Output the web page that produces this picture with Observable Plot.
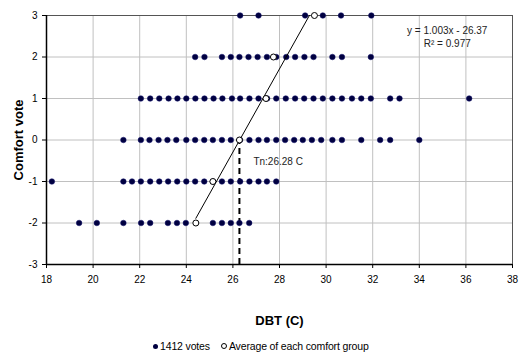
<!DOCTYPE html>
<html><head><meta charset="utf-8">
<script src="https://cdn.jsdelivr.net/npm/d3@7"></script>
<script src="https://cdn.jsdelivr.net/npm/@observablehq/plot@0.6"></script>
<style>
body{margin:0;background:#fff;font-family:"Liberation Sans",Arial,sans-serif;}
#wrap{position:relative;width:519px;height:353px;overflow:hidden;}
#chart svg{display:block;}
g[aria-label="x-axis label"] text, g[aria-label="y-axis label"] text{font-weight:bold;font-size:13px;}
#legend{position:absolute;left:153px;top:340px;font-size:10.5px;color:#000;white-space:nowrap;line-height:12px;letter-spacing:-0.15px;}
#legend .sw{display:inline-block;width:5px;height:5px;border-radius:50%;vertical-align:1px;margin-right:2px;}
#legend .filled{background:#000040;}
#legend .open{background:#fff;border:1px solid #000;width:4px;height:4px;}
</style></head><body>
<div id="wrap"><div id="chart"></div>
<div id="legend"><span class="sw filled"></span>1412 votes&nbsp;&nbsp;&nbsp;&nbsp;<span class="sw open"></span>Average of each comfort group</div>
</div>
<script>
// DBT (C) of the individual votes, per comfort vote level
const dbtVote3 = [26.31, 27.10, 29.10, 29.86, 30.64, 31.94];
const dbtVote2 = [24.38, 24.78, 25.53, 25.91, 26.28, 26.67, 27.06, 27.46, 27.86, 28.29, 28.67, 29.07, 29.46, 30.27, 30.68, 31.92];
const dbtVote1 = [22.05, 22.45, 22.84, 23.24, 23.62, 24.00, 24.39, 24.78, 25.17, 25.55, 25.96, 26.31, 26.71, 27.10, 27.47, 27.86, 28.27, 28.67, 29.06, 29.46, 29.86, 30.27, 30.68, 31.11, 31.51, 31.92, 32.75, 33.15, 36.14];
const dbtVote0 = [21.30, 22.05, 22.42, 22.81, 23.19, 23.57, 24.00, 24.38, 24.77, 25.14, 25.53, 25.91, 26.31, 26.71, 27.10, 27.46, 27.86, 28.24, 28.63, 29.00, 29.39, 29.79, 30.27, 30.68, 31.51, 32.32, 32.75, 34.00];
const dbtVoteM1 = [18.23, 21.30, 21.67, 22.05, 22.45, 22.84, 23.22, 23.61, 24.00, 24.38, 24.77, 25.14, 25.53, 25.91, 26.31, 26.71, 27.10, 27.46, 27.86];
const dbtVoteM2 = [19.40, 20.16, 21.30, 22.06, 22.45, 23.21, 23.60, 23.98, 25.14, 25.53, 25.91, 26.28, 26.70];
const voteLevels = [3, 2, 1, 0, -1, -2];

// average DBT of each comfort group
const groupVotes = [-2, -1, 0, 1, 2, 3];
const groupAvgDbt = [24.41, 25.14, 26.28, 27.42, 27.74, 29.50];

// regression and neutral temperature
const slope = 1.003;
const intercept = -26.37;
const r2 = 0.977;
const tn = 26.28;

const xTicks = [18, 20, 22, 24, 26, 28, 30, 32, 34, 36, 38];
const yTicks = [-3, -2, -1, 0, 1, 2, 3];

const rows = [dbtVote3, dbtVote2, dbtVote1, dbtVote0, dbtVoteM1, dbtVoteM2];
const points = rows.flatMap((arr, i) => arr.map(d => ({dbt: d, vote: voteLevels[i]})));
const avgs = groupVotes.map((v, i) => ({dbt: groupAvgDbt[i], vote: v}));
const xMin = d3.min(groupAvgDbt), xMax = d3.max(groupAvgDbt);
const trend = [xMin, xMax].map(x => ({dbt: x, vote: slope * x + intercept}));

const chart = Plot.plot({
  width: 519, height: 333,
  marginLeft: 46, marginRight: 7, marginTop: 15, marginBottom: 69,
  style: {fontFamily: "'Liberation Sans', Arial, sans-serif", fontSize: "10px", color: "#000", background: "#fff"},
  x: {domain: [18, 38]},
  y: {domain: [-3, 3]},
  marks: [
    Plot.gridX(xTicks.slice(1, -1), {stroke: "#c0c0c0", strokeOpacity: 1}),
    Plot.gridY(yTicks.slice(1, -1), {stroke: "#c0c0c0", strokeOpacity: 1}),
    Plot.ruleY([3], {stroke: "#555"}),
    Plot.ruleX([38], {stroke: "#555"}),
    Plot.axisX(xTicks, {tickSize: 4, tickPadding: 7, tickFormat: d => String(d), label: "DBT (C)", labelArrow: "none", labelAnchor: "center", labelOffset: 60}),
    Plot.axisY(yTicks, {tickSize: 4, tickPadding: 5, tickFormat: d => String(d), label: "Comfort vote", labelArrow: "none", labelAnchor: "center", labelOffset: 33}),
    Plot.ruleX([18], {stroke: "#000", strokeWidth: 1.5}),
    Plot.ruleY([-3], {stroke: "#000", strokeWidth: 1.5}),
    Plot.ruleX([tn], {y1: -3, y2: 0, stroke: "#000", strokeWidth: 2, strokeDasharray: "6,4"}),
    Plot.dot(points, {x: "dbt", y: "vote", r: 2.8, fill: "#000040", stroke: "#10106a", strokeWidth: 0.5}),
    Plot.line(trend, {x: "dbt", y: "vote", stroke: "#000", strokeWidth: 1, clip: true}),
    Plot.dot(avgs, {x: "dbt", y: "vote", r: 3, fill: "#fff", stroke: "#000", strokeWidth: 1}),
    Plot.text([`Tn:${tn} C`], {x: tn, y: -0.52, text: d => d, textAnchor: "start", dx: 14, fontSize: 10, fill: "#222"}),
    Plot.text([`y = ${slope}x - ${-intercept}\nR² = ${r2}`], {x: 35.2, y: 2.49, text: d => d, textAnchor: "middle", fontSize: 10, lineHeight: 1.3, fill: "#222"})
  ]
});
// strip any arrow glyphs from the axis titles
chart.querySelectorAll('g[aria-label$="axis label"] text, g[aria-label$="axis label"] tspan').forEach(t => {
  if (t.childNodes.length === 1 && t.firstChild.nodeType === 3) t.textContent = t.textContent.replace(/\s*[↑↓←→]\s*/g, "");
});
document.getElementById("chart").appendChild(chart);
</script>
</body></html>
